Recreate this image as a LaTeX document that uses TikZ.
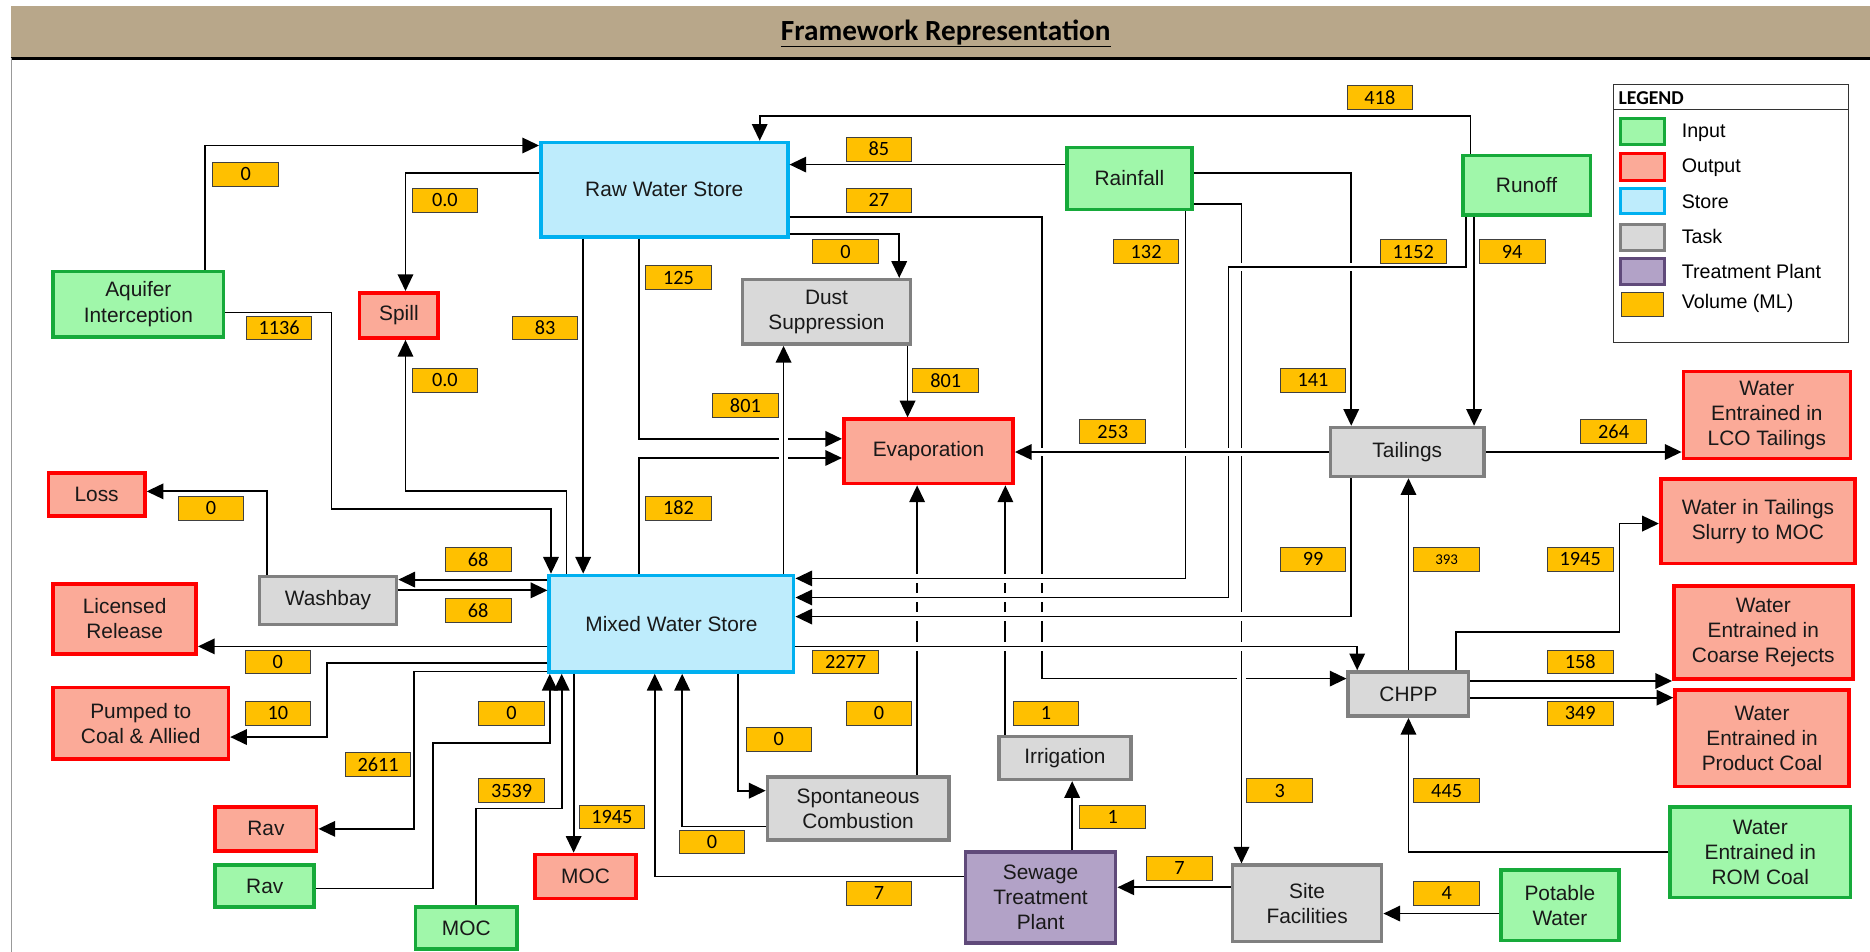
\documentclass[tikz,border=0pt]{standalone}
\usepackage{fontspec}
\setmainfont{Liberation Sans}
\newfontfamily\calibfont{Carlito}
\usetikzlibrary{arrows.meta}

\definecolor{infill}{RGB}{160,247,170}
\definecolor{inedge}{RGB}{22,170,58}
\definecolor{outfill}{RGB}{251,170,152}
\definecolor{outedge}{RGB}{255,0,0}
\definecolor{storefill}{RGB}{190,236,252}
\definecolor{storeedge}{RGB}{0,176,240}
\definecolor{taskfill}{RGB}{217,217,217}
\definecolor{taskedge}{RGB}{128,128,128}
\definecolor{plantfill}{RGB}{178,162,199}
\definecolor{plantedge}{RGB}{96,74,122}
\definecolor{volfill}{RGB}{255,192,0}
\definecolor{voledge}{RGB}{64,64,64}
\definecolor{bandtan}{RGB}{184,167,138}

\newcommand{\boxfont}{\fontsize{17.5}{21}\selectfont}
\newcommand{\volfont}{\calibfont\fontsize{17}{19}\selectfont}
\newcommand{\keyfont}{\fontsize{16.5}{20}\selectfont}

\tikzset{
  box/.style={draw, line width=3pt, inner sep=1pt, align=center, font=\boxfont, text=black!90},
  inbox/.style={box, draw=inedge, fill=infill},
  outbox/.style={box, draw=outedge, fill=outfill},
  storebox/.style={box, draw=storeedge, fill=storefill},
  taskbox/.style={box, draw=taskedge, fill=taskfill},
  plantbox/.style={box, draw=plantedge, fill=plantfill},
  volbox/.style={draw=voledge, fill=volfill, line width=0.8pt, minimum width=55pt, minimum height=20pt, inner sep=0pt, font=\volfont},
  flow/.style={line width=1.5pt, -{Triangle[length=14pt,width=13pt]}},
  overflow/.style={preaction={draw=white, line width=7pt, arrows=-, shorten >=9pt, shorten <=9pt}},
}

\begin{document}
\begin{tikzpicture}[x=1pt,y=-1pt]
	\useasboundingbox (0,0) rectangle (1568,798);

	% title band
	\fill[bandtan] (9,5) rectangle (1568,49);
	\draw[line width=2pt] (9,49) -- (1568,49);
	\draw[black!40, line width=1pt] (9.5,49) -- (9.5,798);
	\node[font=\calibfont\bfseries\fontsize{24.5}{28}\selectfont] (title) at (793,28) {\underline{Framework Representation}};

	% nodes
	\node[storebox, minimum width=207pt, minimum height=79pt] (rws) at (557,159) {Raw Water Store};
	\node[inbox, minimum width=105pt, minimum height=52pt] (rain) at (947,149.5) {Rainfall};
	\node[inbox, minimum width=107pt, minimum height=50pt] (runoff) at (1280,155.5) {Runoff};
	\node[inbox, minimum width=143pt, minimum height=55pt] (aqui) at (116,255) {Aquifer\\Interception};
	\node[outbox, minimum width=66pt, minimum height=38pt] (spill) at (334.5,264.5) {Spill};
	\node[taskbox, minimum width=141pt, minimum height=54pt] (dust) at (693,261.5) {Dust\\Suppression};
	\node[outbox, minimum width=142pt, minimum height=54pt] (evap) at (778.5,378.5) {Evaporation};
	\node[taskbox, minimum width=129pt, minimum height=41pt] (tail) at (1180,379) {Tailings};
	\node[outbox, minimum width=140pt, minimum height=73pt] (lco) at (1481.5,348) {Water\\Entrained in\\LCO Tailings};
	\node[outbox, minimum width=81pt, minimum height=36pt] (loss) at (81,414.5) {Loss};
	\node[taskbox, minimum width=115pt, minimum height=40pt] (wash) at (275,503.5) {Washbay};
	\node[storebox, minimum width=205pt, minimum height=81pt] (mws) at (563,523) {Mixed Water Store};
	\node[outbox, minimum width=163pt, minimum height=71pt] (slurry) at (1474,437) {Water in Tailings\\Slurry to MOC};
	\node[outbox, minimum width=120pt, minimum height=59pt] (lic) at (104.5,519) {Licensed\\Release};
	\node[outbox, minimum width=150pt, minimum height=78pt] (coarse) at (1478.5,530.5) {Water\\Entrained in\\Coarse Rejects};
	\node[taskbox, minimum width=101pt, minimum height=37pt] (chpp) at (1181,582) {CHPP};
	\node[outbox, minimum width=146pt, minimum height=81pt] (prod) at (1477.5,619) {Water\\Entrained in\\Product Coal};
	\node[outbox, minimum width=147pt, minimum height=60pt] (pump) at (118,606.5) {Pumped to\\Coal \& Allied};
	\node[taskbox, minimum width=111pt, minimum height=36pt] (irr) at (893,635.5) {Irrigation};
	\node[taskbox, minimum width=152pt, minimum height=53pt] (spon) at (719.5,678) {Spontaneous\\Combustion};
	\node[outbox, minimum width=85pt, minimum height=37pt] (ravout) at (223,695) {Rav};
	\node[inbox, minimum width=83pt, minimum height=35pt] (ravin) at (222,743) {Rav};
	\node[outbox, minimum width=85pt, minimum height=37pt] (mocout) at (491,735) {MOC};
	\node[inbox, minimum width=85pt, minimum height=35pt] (mocin) at (391,778) {MOC};
	\node[plantbox, minimum width=126pt, minimum height=76pt] (stp) at (872.5,752.5) {Sewage\\Treatment\\Plant};
	\node[taskbox, minimum width=125pt, minimum height=64pt] (site) at (1096,757.5) {Site\\Facilities};
	\node[inbox, minimum width=99pt, minimum height=59pt] (pot) at (1308,759) {Potable\\Water};
	\node[inbox, minimum width=151pt, minimum height=76pt] (rom) at (1476,714.5) {Water\\Entrained in\\ROM Coal};

	% flows that pass underneath
	\draw[flow] (irr.north -| 843,0) -- (evap.south -| 843,0);
	\draw[flow] (spon.north -| 769,0) -- (evap.south -| 769,0);
	\draw[flow] (rws.east |- 0,182) -| (874,569) -- (chpp.west |- 0,569);
	\draw[flow] (rain.east |- 0,145) -| (tail.north -| 1133,0);
	\draw[flow] (rws.south -| 536,0) |- (evap.west |- 0,368);
	\draw[flow] (mws.north -| 536,0) |- (evap.west |- 0,384);

	% flows drawn on top, with gaps
	\draw[flow,overflow] (rain.east |- 0,171) -| (site.north -| 1041,0);
	\draw[flow,overflow] (rain.south -| 994,0) |- (mws.east |- 0,485);
	\draw[flow,overflow] (runoff.south -| 1229,0) |- (1030,224) |- (mws.east |- 0,501);
	\draw[flow,overflow] (tail.south -| 1133,0) |- (mws.east |- 0,517);
	\draw[flow,overflow] (mws.east |- 0,542) -| (chpp.north -| 1138,0);
	\draw[flow,overflow] (tail.west) -- (evap.east |- tail.west);
	\draw[flow,overflow] (mws.north -| 657,0) -- (dust.south -| 657,0);

	% other flows
	\draw[flow] (runoff.north -| 1233,0) -- (1233,97) -| (rws.north -| 637,0);
	\draw[flow] (rain.west |- 0,138) -- (rws.east |- 0,138);
	\draw[flow] (rws.east |- 0,196) -| (dust.north -| 754,0);
	\draw[flow] (rws.west |- 0,145) -| (spill.north -| 340,0);
	\draw[flow] (aqui.north -| 172,0) |- (rws.west |- 0,122);
	\draw[flow] (aqui.east |- 0,262) -| (278,427) -| (mws.north -| 462,0);
	\draw[flow] (mws.north -| 475,0) |- (340,412) -- (spill.south -| 340,0);
	\draw[flow] (rws.south -| 489,0) -- (mws.north -| 489,0);
	\draw[flow] (dust.south -| 761,0) -- (evap.north -| 761,0);
	\draw[flow] (tail.east) -- (lco.west |- tail.east);
	\draw[flow] (runoff.south -| 1236,0) -- (tail.north -| 1236,0);
	\draw[flow] (chpp.north) -- (tail.south -| chpp.north);
	\draw[flow] (chpp.north -| 1221,0) |- (1358,530) |- (slurry.west |- 0,439);
	\draw[flow] (chpp.east |- 0,571) -- (coarse.west |- 0,571);
	\draw[flow] (chpp.east |- 0,585) -- (prod.west |- 0,585);
	\draw[flow] (rom.west) -| (chpp.south);
	\draw[flow] (pot.west |- 0,766) -- (site.east |- 0,766);
	\draw[flow] (site.west |- 0,744) -- (stp.east |- 0,744);
	\draw[flow] (stp.north -| 899,0) -- (irr.south -| 899,0);
	\draw[flow] (stp.west |- 0,735) -| (mws.south -| 549,0);
	\draw[flow] (spon.west |- 0,693) -| (mws.south -| 572,0);
	\draw[flow] (mws.south -| 619,0) |- (spon.west |- 0,663);
	\draw[flow] (mws.south -| 481,0) -- (mocout.north -| 481,0);
	\draw[flow] (mws.west |- 0,486) -- (wash.east |- 0,486);
	\draw[flow] (wash.east |- 0,495) -- (mws.west |- 0,495);
	\draw[flow] (wash.north -| 224,0) |- (loss.east |- 0,412);
	\draw[flow] (mws.west |- 0,542) -- (lic.east |- 0,542);
	\draw[flow] (mws.west |- 0,556) -| (274,618) -- (pump.east |- 0,618);
	\draw[flow] (mws.west |- 0,563) -| (347,695) -- (ravout.east |- 0,695);
	\draw[flow] (ravin.east |- 0,745) -| (363,623) -| (mws.south -| 461,0);
	\draw[flow] (mocin.north -| 399,0) |- (471,678) -- (mws.south -| 471,0);

	% volumes
	\node[volbox] (v418) at (1157,82) {418};
	\node[volbox] (v85) at (737,125) {85};
	\node[volbox] (v0a) at (206,146) {0};
	\node[volbox] (v00a) at (373,168) {0.0};
	\node[volbox] (v27) at (737,168) {27};
	\node[volbox] (v0b) at (709,211) {0};
	\node[volbox] (v132) at (961,211) {132};
	\node[volbox] (v1152) at (1185,211) {1152};
	\node[volbox] (v94) at (1268,211) {94};
	\node[volbox] (v125) at (569,233) {125};
	\node[volbox] (v1136) at (234,275) {1136};
	\node[volbox] (v83) at (457,275) {83};
	\node[volbox] (v00b) at (373,319) {0.0};
	\node[volbox] (v801a) at (793,319) {801};
	\node[volbox] (v141) at (1101,319) {141};
	\node[volbox] (v801b) at (625,340) {801};
	\node[volbox] (v253) at (933,362) {253};
	\node[volbox] (v264) at (1353,362) {264};
	\node[volbox] (v0c) at (177,426) {0};
	\node[volbox] (v182) at (569,426) {182};
	\node[volbox] (v68a) at (401,469) {68};
	\node[volbox] (v99) at (1101,469) {99};
	\node[volbox, font=\calibfont\fontsize{12.5}{14}\selectfont] (v393) at (1213,469) {393};
	\node[volbox] (v1945a) at (1325,469) {1945};
	\node[volbox] (v68b) at (401,512) {68};
	\node[volbox] (v0d) at (233,555) {0};
	\node[volbox] (v2277) at (709,555) {2277};
	\node[volbox] (v158) at (1325,555) {158};
	\node[volbox] (v10) at (233,598) {10};
	\node[volbox] (v0e) at (429,598) {0};
	\node[volbox] (v0f) at (737,598) {0};
	\node[volbox] (v1a) at (877,598) {1};
	\node[volbox] (v349) at (1325,598) {349};
	\node[volbox] (v0g) at (653,620) {0};
	\node[volbox] (v2611) at (317,641) {2611};
	\node[volbox] (v3539) at (429,663) {3539};
	\node[volbox] (v3) at (1073,663) {3};
	\node[volbox] (v445) at (1213,663) {445};
	\node[volbox] (v1945b) at (513,685) {1945};
	\node[volbox] (v1b) at (933,685) {1};
	\node[volbox] (v0h) at (597,706) {0};
	\node[volbox] (v7a) at (989,728) {7};
	\node[volbox] (v7b) at (737,749) {7};
	\node[volbox] (v4) at (1213,749) {4};

	% legend
	\draw[line width=1pt, black!80] (1353,71) rectangle (1550,287);
	\draw[line width=1pt, black!80] (1353,92) -- (1550,92);
	\node[anchor=west, inner sep=0pt, font=\calibfont\bfseries\fontsize{16.5}{18}\selectfont] (keyhead) at (1357,82) {LEGEND};
	\node[inbox, line width=2.5pt, minimum width=37pt, minimum height=22pt] (keyin) at (1377.5,110.5) {};
	\node[outbox, line width=2.5pt, minimum width=37pt, minimum height=22pt] (keyout) at (1377.5,140) {};
	\node[storebox, line width=2.5pt, minimum width=37pt, minimum height=21pt] (keystore) at (1377.5,168.5) {};
	\node[taskbox, line width=2.5pt, minimum width=37pt, minimum height=22pt] (keytask) at (1377.5,199) {};
	\node[plantbox, line width=2.5pt, minimum width=37pt, minimum height=22pt] (keyplant) at (1377.5,227.5) {};
	\node[volbox, minimum width=35pt, minimum height=20pt] (keyvol) at (1377.5,255) {};
	\node[anchor=west, inner sep=0pt, font=\keyfont] (keyintxt) at (1410,111) {Input};
	\node[anchor=west, inner sep=0pt, font=\keyfont] (keyouttxt) at (1410,141) {Output};
	\node[anchor=west, inner sep=0pt, font=\keyfont] (keystoretxt) at (1410,169) {Store};
	\node[anchor=west, inner sep=0pt, font=\keyfont] (keytasktxt) at (1410,198) {Task};
	\node[anchor=west, inner sep=0pt, font=\keyfont] (keyplanttxt) at (1410,228) {Treatment Plant};
	\node[anchor=west, inner sep=0pt, font=\keyfont] (keyvoltxt) at (1410,254) {Volume (ML)};

\end{tikzpicture}
\end{document}
